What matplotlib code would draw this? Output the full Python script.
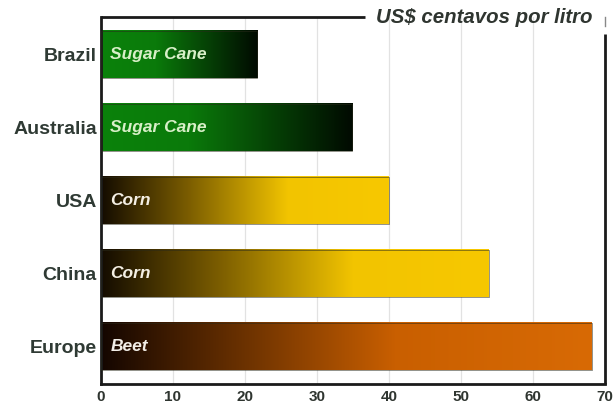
import matplotlib.pyplot as plt
import numpy as np
from matplotlib.colors import LinearSegmentedColormap

# custo de produção de etanol por país
countries = ['Brazil', 'Australia', 'USA', 'China', 'Europe']
costs = [21.7, 34.9, 40.0, 53.9, 68.2]
crops = ['Sugar Cane', 'Sugar Cane', 'Corn', 'Corn', 'Beet']
xticks = [0, 10, 20, 30, 40, 50, 60, 70]
unit_label = 'US$ centavos por litro'

# cor de cada matéria-prima (verde -> preto, preto -> amarelo/laranja)
crop_cmaps = {
    'Sugar Cane': LinearSegmentedColormap.from_list(
        'cane', [(0, '#0b820b'), (0.35, '#0a7a0a'), (1, '#010a01')]),
    'Corn': LinearSegmentedColormap.from_list(
        'corn', [(0, '#140c00'), (0.3, '#7a5c00'), (0.65, '#f2c400'), (1, '#f7c800')]),
    'Beet': LinearSegmentedColormap.from_list(
        'beet', [(0, '#140600'), (0.3, '#6e3300'), (0.6, '#c95f00'), (1, '#d86a05')]),
}
label_colors = {'Sugar Cane': '#d8efc8', 'Corn': '#f4efe4', 'Beet': '#f2eee8'}

plt.rcParams['font.family'] = ['Liberation Sans', 'DejaVu Sans']

fig = plt.figure(figsize=(6.14, 4.07), dpi=100)
ax = fig.add_axes([0.1645, 0.0565, 0.8205, 0.9015])

bar_h = 0.645
grad = np.linspace(0, 1, 256).reshape(1, -1)
for i, (val, crop) in enumerate(zip(costs, crops)):
    ax.imshow(grad, cmap=crop_cmaps[crop], aspect='auto', interpolation='bilinear',
              extent=[0, val, i + bar_h / 2, i - bar_h / 2], zorder=2)
    ax.add_patch(plt.Rectangle((0, i - bar_h / 2), val, bar_h, fill=False,
                               edgecolor='#2a2a1a', lw=0.6, alpha=0.6, zorder=3))
    ax.text(1.3, i, crop, color=label_colors[crop], fontsize=12.5, fontweight='bold',
            fontstyle='italic', va='center', ha='left', zorder=4)

ax.set_xlim(0, 70)
ax.set_ylim(4.51, -0.51)
ax.set_xticks(xticks)
ax.set_xticklabels([str(t) for t in xticks], fontsize=11, fontweight='bold', color='#2f3530')
ax.set_yticks(range(len(countries)))
ax.set_yticklabels(countries, fontsize=14, fontweight='bold', color='#2f3a34')
ax.tick_params(length=0, pad=4)
ax.tick_params(axis='y', pad=3)

for t in xticks[1:-1]:
    ax.axvline(t, color='#e2e2e2', lw=0.9, zorder=1)

# moldura: topo interrompido pelo rótulo da unidade
for side in ['top', 'right']:
    ax.spines[side].set_visible(False)
ax.spines['left'].set_linewidth(2)
ax.spines['bottom'].set_linewidth(2)
ax.spines['left'].set_color('#1a1a1a')
ax.spines['bottom'].set_color('#1a1a1a')
ax.plot([0, 0.525], [1, 1], transform=ax.transAxes, color='#1a1a1a', lw=2,
        clip_on=False, solid_capstyle='butt')
ax.plot([1, 1], [0, 0.955], transform=ax.transAxes, color='#1a1a1a', lw=2,
        clip_on=False, solid_capstyle='butt')
ax.plot([1, 1], [0.975, 1.0], transform=ax.transAxes, color='#888888', lw=1,
        clip_on=False)
ax.text(0.975, 1.0, unit_label, transform=ax.transAxes, ha='right', va='center',
        fontsize=14.7, fontweight='bold', fontstyle='italic', color='#2f3530')

fig.savefig('out.png', dpi=100)
